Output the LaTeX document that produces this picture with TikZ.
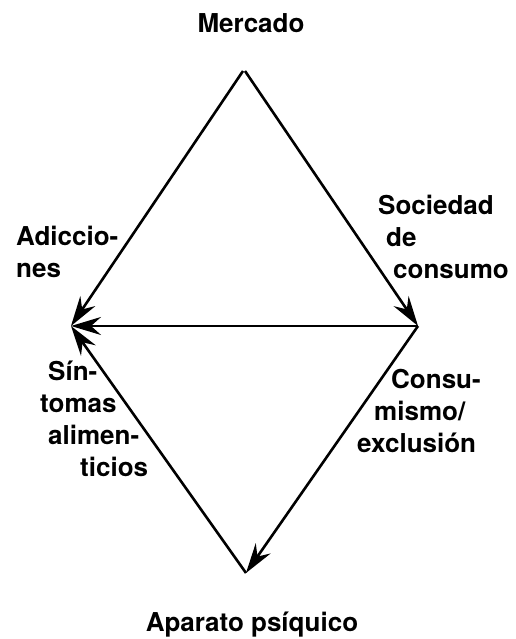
\documentclass[tikz,border=0pt]{standalone}
\usepackage{fontspec}
\setmainfont{TeX Gyre Heros}
\usetikzlibrary{arrows.meta}

\begin{document}
\begin{tikzpicture}[x=1pt,y=1pt,
    lbl/.style={font=\bfseries\fontsize{26}{32}\selectfont,inner sep=0pt,align=left,anchor=base west},
    arr/.style={line width=2.6pt,-{Stealth[length=30pt,width=18pt,inset=10pt]}}]
    % y runs upward: y = 639 - pixel row
    \useasboundingbox (0,0) rectangle (515,639);
    \coordinate (mercado) at (244,568);
    \coordinate (adic) at (71,313);
    \coordinate (soc) at (418,313);
    \coordinate (apar) at (246,66);
    \draw[arr] (243,568)--(adic);
    \draw[arr] (245,568)--(soc);
    \draw[arr] (soc)--(adic);
    \draw[arr] (apar)--(adic);
    \draw[arr] (soc)--(apar);
    \node[lbl,anchor=base] (tmerc) at (251,606) {Mercado};
    \node[lbl,anchor=base] (tapar) at (252,7) {Aparato psíquico};
    \node[lbl] (tadic) at (16,361) {Adiccio-\\nes};
    \node[lbl] (tsoc) at (378,360) {Sociedad\\\hspace*{8pt}de\\\hspace*{15pt}consumo};
    \node[lbl] (tsint) at (40,162) {\hspace*{8pt}Sín-\\tomas\\\hspace*{8pt}alimen-\\\hspace*{40pt}ticios};
    \node[lbl] (tcons) at (357,186) {\hspace*{34pt}Consu-\\\hspace*{17pt}mismo/\\exclusión};
  \end{tikzpicture}
\end{document}
